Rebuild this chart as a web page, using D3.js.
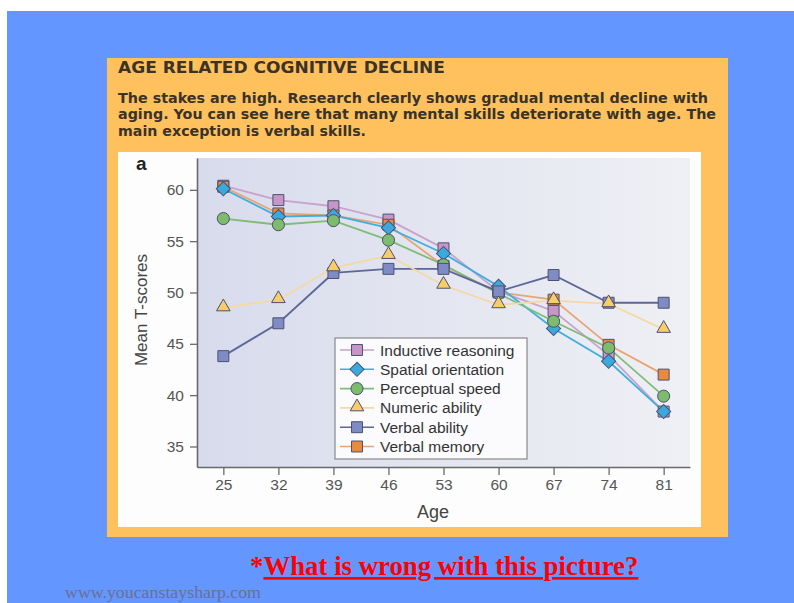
<!DOCTYPE html>
<html><head><meta charset="utf-8">
<script src="https://cdn.jsdelivr.net/npm/d3@7/dist/d3.min.js"></script>
<style>html,body{margin:0;padding:0;background:#fff;}svg{display:block;}</style>
</head><body>
<script>
const ages = [25, 32, 39, 46, 53, 60, 67, 74, 81];
const yTicks = [35, 40, 45, 50, 55, 60];
const seriesNames = ["Inductive reasoning", "Spatial orientation", "Perceptual speed", "Numeric ability", "Verbal ability", "Verbal memory"];
const inductive  = [60.4, 59.0, 58.4, 57.1, 54.3, 50.1, 48.2, 43.9, 38.4];
const spatial    = [60.1, 57.4, 57.5, 56.3, 53.8, 50.6, 46.5, 43.3, 38.4];
const perceptual = [57.2, 56.6, 57.0, 55.1, 52.7, 49.9, 47.2, 44.6, 39.9];
const numeric    = [48.5, 49.3, 52.4, 53.6, 50.7, 48.8, 49.2, 48.9, 46.4];
const verbalAb   = [43.8, 47.0, 51.9, 52.3, 52.3, 50.1, 51.7, 49.0, 49.0];
const verbalMem  = [60.3, 57.7, 57.5, 56.6, 52.6, 50.0, 49.3, 44.9, 42.0];
const titleText = "AGE RELATED COGNITIVE DECLINE";
const bodyLines = ["The stakes are high. Research clearly shows gradual mental decline with",
  "aging. You can see here that many mental skills deteriorate with age. The",
  "main exception is verbal skills."];
const bodyWidths = [590, 598, 248];

const W = 794, H = 603;
const svg = d3.select("body").append("svg").attr("width", W).attr("height", H);
const defs = svg.append("defs");
const grad = defs.append("linearGradient").attr("id", "plotbg").attr("x1", "0").attr("x2", "1").attr("y1", "0").attr("y2", "0");
grad.append("stop").attr("offset", "0").attr("stop-color", "#d8dbec");
grad.append("stop").attr("offset", "1").attr("stop-color", "#eff0f5");

// backgrounds
svg.append("rect").attr("x", 7).attr("y", 11).attr("width", W - 7).attr("height", H - 11).attr("fill", "#6496ff");
svg.append("rect").attr("x", 107).attr("y", 58).attr("width", 621).attr("height", 479).attr("fill", "#fec15e");
svg.append("rect").attr("x", 118).attr("y", 152).attr("width", 583).attr("height", 375).attr("fill", "#fdfdfd");

svg.append("text").attr("x", 118).attr("y", 73).text(titleText)
  .attr("textLength", 327).attr("lengthAdjust", "spacingAndGlyphs")
  .attr("font-family", "DejaVu Sans").attr("font-weight", "bold").attr("font-size", 15.5).attr("fill", "#3a3326");
svg.selectAll("text.body").data(bodyLines).join("text").attr("class", "body")
  .attr("x", 118).attr("y", (d, i) => 102.5 + i * 16.7).text(d => d)
  .attr("textLength", (d, i) => bodyWidths[i]).attr("lengthAdjust", "spacingAndGlyphs")
  .attr("font-family", "DejaVu Sans").attr("font-weight", "bold").attr("font-size", 13.8).attr("fill", "#3a3326");

// scales
const x = d3.scaleLinear().domain([21.65, 84.35]).range([197, 690]);
const y = d3.scaleLinear().domain([33.0, 63.1]).range([467, 158]);

svg.append("rect").attr("x", 197).attr("y", 158).attr("width", 493).attr("height", 309).attr("fill", "url(#plotbg)");

const fontAx = "Liberation Sans, Arial, sans-serif";
const gx = svg.append("g").attr("transform", "translate(0,467)")
  .call(d3.axisBottom(x).tickValues(ages).tickSize(8).tickSizeOuter(0).tickPadding(4));
const gy = svg.append("g").attr("transform", "translate(197,0)")
  .call(d3.axisLeft(y).tickValues(yTicks).tickSize(7).tickSizeOuter(0).tickPadding(6));
[gx, gy].forEach(g => {
  g.select(".domain").attr("stroke", "#6a6a6a").attr("stroke-width", 1.6);
  g.selectAll(".tick line").attr("stroke", "#6a6a6a").attr("stroke-width", 1.3);
  g.selectAll(".tick text").attr("font-family", fontAx).attr("font-size", 15.5).attr("fill", "#555");
});

svg.append("text").attr("transform", "translate(147,310) rotate(-90)").attr("text-anchor", "middle")
  .text("Mean T-scores").attr("font-family", fontAx).attr("font-size", 17).attr("fill", "#444");
svg.append("text").attr("x", 433).attr("y", 518).attr("text-anchor", "middle")
  .text("Age").attr("font-family", fontAx).attr("font-size", 18).attr("fill", "#444");
svg.append("text").attr("x", 136).attr("y", 170).text("a")
  .attr("font-family", fontAx).attr("font-weight", "bold").attr("font-size", 19).attr("fill", "#222");

const series = [
  {name: seriesNames[0], vals: inductive,  line: "#c9a3cd", fill: "#c796c9", shape: "square"},
  {name: seriesNames[5], vals: verbalMem,  line: "#e9a472", fill: "#e98a3d", shape: "square"},
  {name: seriesNames[1], vals: spatial,    line: "#3eaedb", fill: "#3aaade", shape: "diamond"},
  {name: seriesNames[2], vals: perceptual, line: "#7fbc7a", fill: "#7dbb6d", shape: "circle"},
  {name: seriesNames[4], vals: verbalAb,   line: "#5c6798", fill: "#7f8bc5", shape: "square"},
  {name: seriesNames[3], vals: numeric,    line: "#f5d9a3", fill: "#f6cd69", shape: "triangle"}
];
const symType = {square: d3.symbolSquare, diamond: d3.symbolSquare, circle: d3.symbolCircle, triangle: d3.symbolTriangle};
const symSize = {square: 120, diamond: 100, circle: 115, triangle: 80};
function sym(s) { return d3.symbol().type(symType[s]).size(symSize[s])(); }
function rot(s) { return s === "diamond" ? " rotate(45)" : (s === "triangle" ? " translate(0,-1)" : ""); }

const line = d3.line().x((d, i) => x(ages[i])).y(d => y(d));
series.forEach(s => {
  svg.append("path").attr("d", line(s.vals)).attr("fill", "none").attr("stroke", s.line).attr("stroke-width", 1.8);
});
series.forEach(s => {
  svg.selectAll(null).data(s.vals).join("path")
    .attr("d", sym(s.shape))
    .attr("transform", (d, i) => `translate(${x(ages[i])},${y(d)})` + rot(s.shape))
    .attr("fill", s.fill).attr("stroke", "#4d5170").attr("stroke-width", 1);
});

// legend
const legOrder = [0, 2, 3, 5, 4, 1].map(i => series[i]);
const lg = svg.append("g");
lg.append("rect").attr("x", 335).attr("y", 338).attr("width", 192).attr("height", 121)
  .attr("fill", "#fbfbfd").attr("stroke", "#8a8a8a").attr("stroke-width", 1.2);
legOrder.forEach((s, i) => {
  const cy = 350 + i * 19.3;
  lg.append("line").attr("x1", 340).attr("x2", 374).attr("y1", cy).attr("y2", cy).attr("stroke", s.line).attr("stroke-width", 1.6);
  lg.append("path").attr("d", sym(s.shape)).attr("transform", `translate(357,${cy})` + rot(s.shape))
    .attr("fill", s.fill).attr("stroke", "#4d5170").attr("stroke-width", 1);
  lg.append("text").attr("x", 380).attr("y", cy + 5.5).text(s.name)
    .attr("font-family", fontAx).attr("font-size", 15.5).attr("fill", "#333");
});

// footer
const ft = svg.append("text").attr("x", 250).attr("y", 575)
  .attr("font-family", "Liberation Serif, Times New Roman, serif").attr("font-weight", "bold").attr("font-size", 26.8).attr("fill", "#ff0000");
ft.append("tspan").text("*");
ft.append("tspan").attr("text-decoration", "underline").text("What is wrong with this picture?");
svg.append("text").attr("x", 65).attr("y", 598).text("www.youcanstaysharp.com")
  .attr("textLength", 196).attr("lengthAdjust", "spacingAndGlyphs")
  .attr("font-family", "Liberation Serif, Times New Roman, serif").attr("font-size", 16).attr("fill", "#6b6f93");
</script>
</body></html>
